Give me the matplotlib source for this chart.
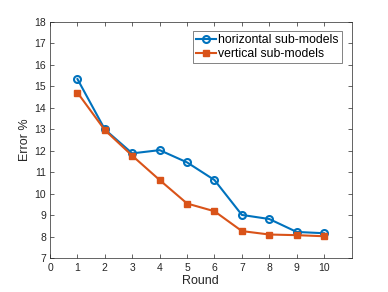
import numpy as np
import matplotlib
matplotlib.use("Agg")
import matplotlib.pyplot as plt

rounds = [1, 2, 3, 4, 5, 6, 7, 8, 9, 10]
horizontal = [15.33, 12.99, 11.88, 12.03, 11.46, 10.64, 9.02, 8.83, 8.23, 8.17]
vertical = [14.70, 12.96, 11.77, 10.64, 9.55, 9.19, 8.27, 8.11, 8.08, 8.03]

plt.rcParams['font.family'] = ['Liberation Sans', 'DejaVu Sans']

fig = plt.figure(figsize=(3.88, 2.92), dpi=100)
ax = fig.add_axes([0.129, 0.115, 0.777, 0.811])

ax.plot(rounds, horizontal, '-o', color='#0072BD', lw=1.5, ms=5,
        mfc='none', mew=1.5, label='horizontal sub-models')
ax.plot(rounds, vertical, '-s', color='#D95319', lw=1.5, ms=4,
        mfc='#D95319', label='vertical sub-models')

ax.set_xlim(0, 11)
ax.set_ylim(7, 18)
ax.set_xticks(range(0, 11))
ax.set_yticks(range(7, 19))
ax.tick_params(direction='in', top=True, right=True, length=3, width=0.5,
               labelsize=7.5, colors='#262626', pad=3)
for s in ax.spines.values():
    s.set_linewidth(0.5)
    s.set_color('#262626')
ax.set_xlabel('Round', fontsize=9, color='#262626', labelpad=2)
ax.set_ylabel('Error %', fontsize=9, color='#262626', labelpad=2)

leg = ax.legend(loc='upper right', fontsize=8.8, frameon=True, fancybox=False,
                handlelength=1.6, handletextpad=0.2, borderpad=0.25,
                labelspacing=0.15, borderaxespad=0.8)
leg.get_frame().set_edgecolor('#262626')
leg.get_frame().set_linewidth(0.5)

fig.savefig('out.png', dpi=100)
